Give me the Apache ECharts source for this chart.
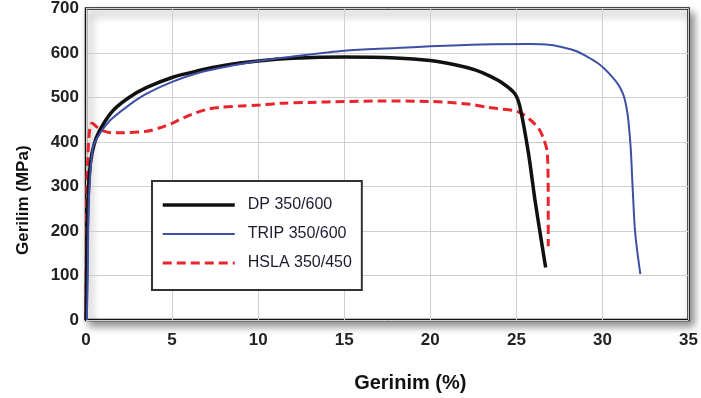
<!DOCTYPE html>
<html>
<head>
<meta charset="utf-8">
<script src="https://cdn.jsdelivr.net/npm/echarts@6/dist/echarts.min.js"></script>
<style>
    html, body { margin: 0; padding: 0; background: #fff; }
    #chart { width: 701px; height: 398px; }
</style>
</head>
<body>
<div id="chart"></div>
<script>
// gerinim (%) / gerilim (MPa) values
var dpX = [0, 0.05, 0.1, 0.2, 0.35, 0.6, 1.0, 1.6, 2.5, 3.5, 5, 6.5, 8, 10, 12, 15, 18, 20, 21.5, 22.6, 23.4, 24.2, 24.9, 25.2, 25.7, 26.1, 26.5, 26.7];
var dpY = [0, 150, 250, 330, 375, 410, 440, 472, 500, 522, 545, 560, 572, 582, 588, 591, 589, 583, 573, 562, 549, 532, 509, 480, 375, 264, 166, 118];

var tripX = [0.05, 0.1, 0.15, 0.25, 0.42, 0.7, 1.0, 1.5, 2.5, 3.5, 5, 6.5, 8, 10, 12, 15, 18, 20, 23, 25.8, 27, 27.8, 28.5, 29.1, 29.7, 30.1, 30.5, 30.9, 31.15, 31.3, 31.45, 31.55, 31.65, 31.75, 31.9, 32.2];
var tripY = [0, 100, 250, 330, 390, 412, 430, 452, 483, 508, 535, 555, 568, 582, 592, 605, 611, 615, 619, 620, 618, 612, 604, 592, 578, 565, 549, 530, 512, 495, 465, 430, 380, 300, 196, 103];

var hslaX = [0, 0.02, 0.05, 0.1, 0.19, 0.33, 0.45, 0.62, 1.0, 1.5, 2.2, 3.5, 4.3, 5, 5.7, 6.4, 7.1, 7.8, 9, 10.1, 11.3, 13, 15, 17, 20, 22.3, 23.3, 23.9, 25.1, 25.8, 26.3, 26.6, 26.8, 26.85, 26.85];
var hslaY = [0, 150, 300, 360, 420, 442, 440, 434, 425, 421, 421, 424, 432, 442, 455, 466, 474, 478, 481, 483, 487, 489, 491, 492, 491, 485, 478, 475, 468, 450, 430, 405, 375, 250, 166];

var seriesNames = ['DP 350/600', 'TRIP 350/600', 'HSLA 350/450'];

function pairs(xs, ys) {
    var out = [];
    for (var i = 0; i < xs.length; i++) {
        out.push([xs[i], ys[i]]);
    }
    return out;
}

var chart = echarts.init(document.getElementById('chart'));
chart.setOption({
    animation: false,
    grid: {
        left: 86,
        right: 10,
        top: 8,
        bottom: 77,
        show: true,
        backgroundColor: '#fff',
        borderColor: '#111',
        borderWidth: 2.5,
        shadowColor: 'rgba(0,0,0,0.45)',
        shadowBlur: 8,
        shadowOffsetX: 4,
        shadowOffsetY: 5
    },
    legend: {
        orient: 'vertical',
        left: 152,
        top: 181,
        backgroundColor: '#fff',
        borderColor: '#333',
        borderWidth: 2,
        borderRadius: 0,
        padding: [16, 10, 19, 9],
        itemWidth: 72,
        itemHeight: 14,
        itemGap: 13,
        itemStyle: { opacity: 0 },
        lineStyle: { width: 'inherit' },
        textStyle: {
            fontFamily: 'Liberation Sans, Arial, sans-serif',
            fontSize: 16,
            color: '#1c1c30',
            padding: [0, 0, 0, 8]
        },
        data: seriesNames
    },
    xAxis: {
        type: 'value',
        min: 0,
        max: 35,
        interval: 5,
        name: 'Gerinim (%)',
        nameLocation: 'middle',
        nameGap: 53,
        nameTextStyle: {
            fontFamily: 'Liberation Sans, Arial, sans-serif',
            fontSize: 20,
            fontWeight: 'bold',
            color: '#111',
            padding: [0, 0, 0, 46]
        },
        axisLine: { show: false },
        axisTick: { show: false },
        axisLabel: {
            margin: 12,
            fontFamily: 'Liberation Sans, Arial, sans-serif',
            fontSize: 17,
            fontWeight: 'bold',
            color: '#222'
        },
        splitLine: { lineStyle: { color: '#cfcfcf', width: 1 } }
    },
    yAxis: {
        type: 'value',
        min: 0,
        max: 700,
        interval: 100,
        name: 'Gerilim (MPa)',
        nameLocation: 'middle',
        nameGap: 54,
        nameTextStyle: {
            fontFamily: 'Liberation Sans, Arial, sans-serif',
            fontSize: 17,
            fontWeight: 'bold',
            color: '#111',
            padding: [0, 72, 0, 0]
        },
        axisLine: { show: false },
        axisTick: { show: false },
        axisLabel: {
            margin: 7,
            fontFamily: 'Liberation Sans, Arial, sans-serif',
            fontSize: 17,
            fontWeight: 'bold',
            color: '#222'
        },
        splitLine: { lineStyle: { color: '#cfcfcf', width: 1 } }
    },
    series: [{
        name: seriesNames[0],
        type: 'line',
        symbol: 'none',
        smooth: 0.3,
        data: pairs(dpX, dpY),
        itemStyle: { color: '#111' },
        lineStyle: { color: '#111', width: 3.5 },
        z: 3
    }, {
        name: seriesNames[1],
        type: 'line',
        symbol: 'none',
        smooth: 0.3,
        data: pairs(tripX, tripY),
        itemStyle: { color: '#3d4fa6' },
        lineStyle: { color: '#3d4fa6', width: 2 },
        z: 4
    }, {
        name: seriesNames[2],
        type: 'line',
        symbol: 'none',
        smooth: 0.3,
        data: pairs(hslaX, hslaY),
        itemStyle: { color: '#e8242c' },
        lineStyle: { color: '#e8242c', width: 3, type: [9, 5] },
        z: 2
    }]
});
</script>
</body>
</html>
